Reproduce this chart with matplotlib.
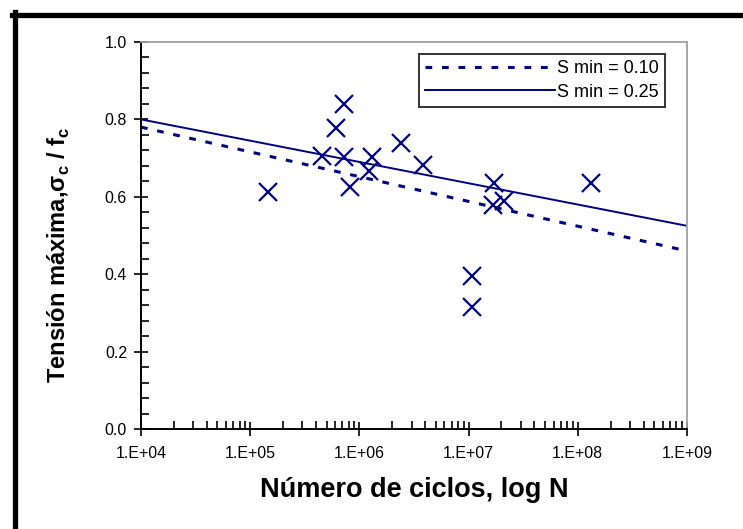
import matplotlib
matplotlib.use("Agg")
import matplotlib.pyplot as plt
from matplotlib.lines import Line2D
from matplotlib.ticker import LogLocator, MultipleLocator, FixedLocator
import numpy as np

plt.rcParams['font.family'] = ['Liberation Sans', 'DejaVu Sans']
plt.rcParams['mathtext.fontset'] = 'custom'
plt.rcParams['mathtext.rm'] = 'Liberation Sans'
plt.rcParams['mathtext.bf'] = 'Liberation Sans:bold'

navy = '#000080'

# experimental points (N, S max)
N_pts = [1.45e5, 4.5e5, 6.1e5, 7.3e5, 7.3e5, 8.2e5, 1.31e6, 1.23e6,
         2.39e6, 3.85e6, 1.71e7, 1.69e7, 2.11e7, 1.31e8, 1.07e7, 1.07e7]
S_pts = [0.613, 0.705, 0.777, 0.840, 0.704, 0.626, 0.702, 0.667,
         0.738, 0.682, 0.635, 0.579, 0.590, 0.635, 0.395, 0.314]

# fitted lines
N_line = [1e4, 1e9]
S_010 = [0.78, 0.46]
S_025 = [0.80, 0.525]

xticks = [1e4, 1e5, 1e6, 1e7, 1e8, 1e9]
xlabels = ['1.E+04', '1.E+05', '1.E+06', '1.E+07', '1.E+08', '1.E+09']
yticks = [0.0, 0.2, 0.4, 0.6, 0.8, 1.0]

fig = plt.figure(figsize=(7.43, 5.29), dpi=100)
ax = fig.add_axes([141/743, 1-429/529, 546/743, 387/529])

ax.plot(N_line, S_010, color=navy, lw=2.2, ls=(0, (2.2, 3.2)), label='S min = 0.10')
ax.plot(N_line, S_025, color=navy, lw=1.4, label='S min = 0.25')
ax.plot(N_pts, S_pts, ls='none', marker='x', ms=13, mew=1.6, color=navy)

ax.set_xscale('log')
ax.set_xlim(1e4, 1e9)
ax.set_ylim(0, 1.0)

ax.xaxis.set_major_locator(FixedLocator(xticks))
ax.set_xticks(xticks, xlabels)
ax.xaxis.set_minor_locator(LogLocator(base=10, subs=np.arange(2, 10)))
ax.xaxis.set_minor_formatter(plt.NullFormatter())
ax.set_yticks(yticks, ['%.1f' % v for v in yticks])
ax.yaxis.set_minor_locator(MultipleLocator(0.04))

ax.tick_params(which='major', direction='inout', length=10, width=1.2, labelsize=11.5, colors='black')
ax.tick_params(which='minor', direction='in', length=6, width=1.2)
ax.tick_params(axis='x', which='major', pad=7)
ax.tick_params(axis='y', which='major', pad=5)

for s in ['left', 'bottom']:
    ax.spines[s].set_linewidth(1.4)
    ax.spines[s].set_color('black')
for s in ['top', 'right']:
    ax.spines[s].set_linewidth(1.3)
    ax.spines[s].set_color('#a0a0a0')

ax.set_xlabel('Número de ciclos, log N', fontsize=19.5, fontweight='bold', labelpad=12)
ax.set_ylabel(r'Tensión máxima,σ$_\mathbf{c}$ / f$_\mathbf{c}$', fontsize=17,
              fontweight='bold')
ax.yaxis.set_label_coords(-0.127, 0.45)

leg = ax.legend(loc='upper right', bbox_to_anchor=(0.96, 0.969), borderaxespad=0,
                fontsize=13, handlelength=7.2, handletextpad=0.1, fancybox=False,
                frameon=True, borderpad=0.35, labelspacing=0.35)
leg.get_frame().set_edgecolor('black')
leg.get_frame().set_linewidth(1.4)

# thick outer frame (left and top edges)
fig.add_artist(Line2D([14.5/743, 14.5/743], [0, 1-12/529], color='black', lw=3.8,
                      transform=fig.transFigure, solid_capstyle='projecting'))
fig.add_artist(Line2D([12/743, 1], [1-14.5/529, 1-14.5/529], color='black', lw=3.8,
                      transform=fig.transFigure))

fig.savefig('out.png', dpi=100)
